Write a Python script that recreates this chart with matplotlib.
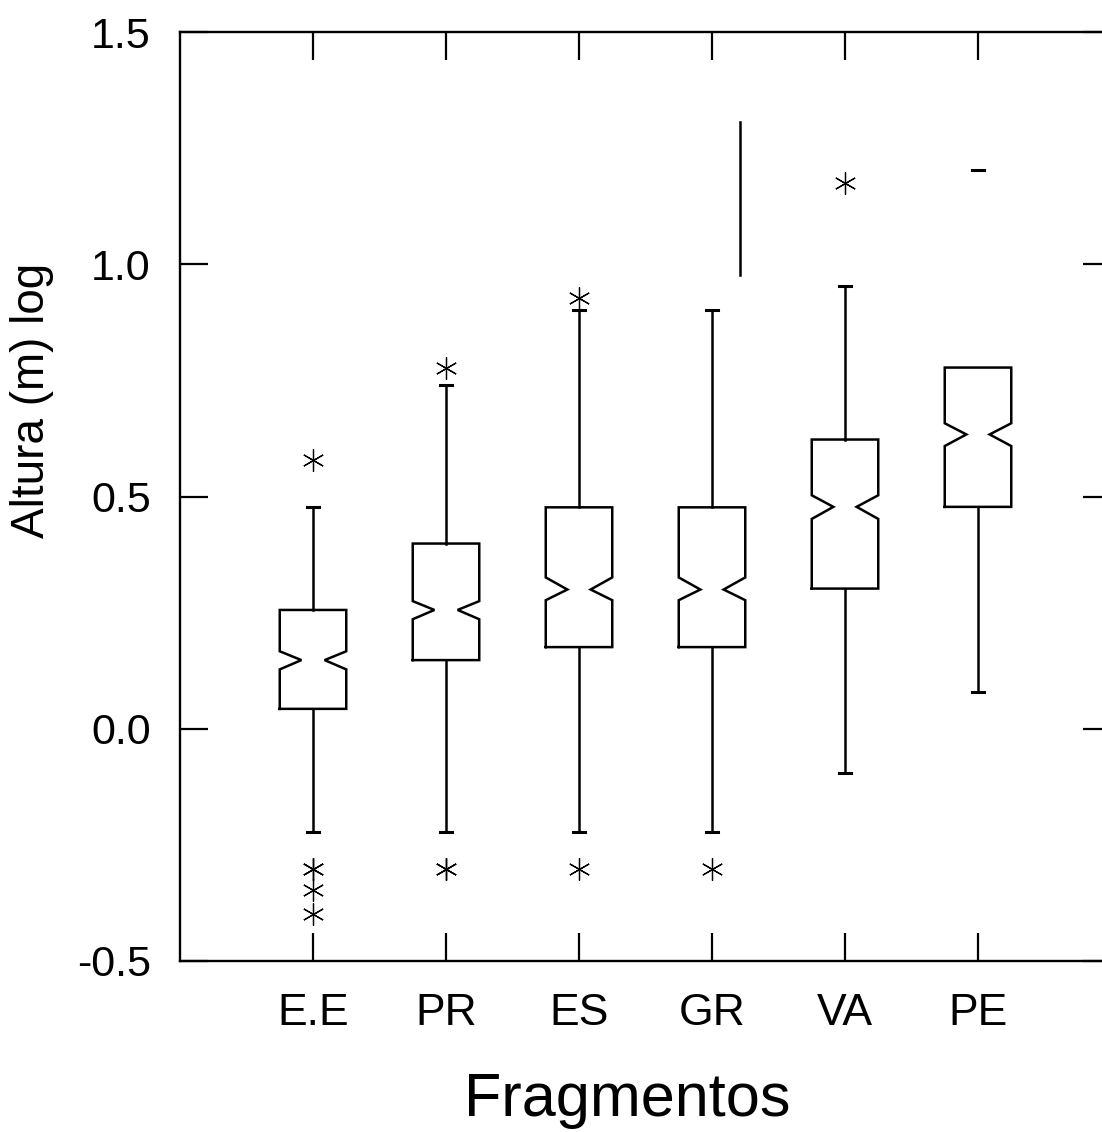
import numpy as np
import matplotlib
matplotlib.use('Agg')
import matplotlib.pyplot as plt

plt.rcParams['font.family'] = ['Liberation Sans', 'DejaVu Sans']
plt.rcParams['axes.unicode_minus'] = False

# box statistics (log10 of height in m)
labels = ['E.E', 'PR', 'ES', 'GR', 'VA', 'PE']
q1 = [0.043, 0.148, 0.176, 0.176, 0.302, 0.478]
med = [0.148, 0.256, 0.300, 0.300, 0.478, 0.634]
q3 = [0.256, 0.399, 0.477, 0.477, 0.623, 0.778]
ci_lo = [0.128, 0.236, 0.277, 0.277, 0.452, 0.609]
ci_hi = [0.167, 0.275, 0.326, 0.326, 0.503, 0.658]
whis_lo = [-0.222, -0.222, -0.222, -0.222, -0.096, 0.080]
whis_hi = [0.477, 0.740, 0.903, 0.903, 0.954, 1.203]
fliers = [[0.580, -0.301, -0.301, -0.348, -0.398],
          [0.778, -0.301, -0.301],
          [0.927, -0.301],
          [-0.301],
          [1.176],
          []]
# PE: upper whisker line is not drawn, only its cap
draw_upper_whisker = [True, True, True, True, True, False]
# stray vertical segment next to GR
stray_x = [4.21]
stray_lo = [0.977]
stray_hi = [1.307]

box_w = 0.5      # full box width
waist_w = 0.175  # width at the notch
cap_w = 0.095
lw = 1.8
col = 'black'

fig = plt.figure(figsize=(11.02, 11.32), dpi=100)
ax = fig.add_axes([180/1102, 171/1132, 931/1102, 928.7/1132])

pos = np.arange(1, len(labels) + 1)
for i, p in enumerate(pos):
    l, r = p - box_w/2, p + box_w/2
    nl, nr = p - waist_w/2, p + waist_w/2
    bx = [l, r, r, nr, r, r, l, l, nl, l, l]
    by = [q1[i], q1[i], ci_lo[i], med[i], ci_hi[i], q3[i], q3[i],
          ci_hi[i], med[i], ci_lo[i], q1[i]]
    ax.plot(bx, by, color=col, lw=lw, solid_joinstyle='miter')
    # lower whisker + cap
    ax.plot([p, p], [q1[i], whis_lo[i]], color=col, lw=lw)
    ax.plot([p - cap_w/2, p + cap_w/2], [whis_lo[i]]*2, color=col, lw=2.2)
    # upper whisker + cap
    if draw_upper_whisker[i]:
        ax.plot([p, p], [q3[i], whis_hi[i]], color=col, lw=lw)
    ax.plot([p - cap_w/2, p + cap_w/2], [whis_hi[i]]*2, color=col, lw=2.2)
    if fliers[i]:
        ax.plot([p]*len(fliers[i]), fliers[i], linestyle='none',
                marker=(6, 2, 0), markersize=16, markeredgewidth=0.9,
                color=col)

for x, lo, hi in zip(stray_x, stray_lo, stray_hi):
    ax.plot([x, x], [lo, hi], color=col, lw=lw)

ax.set_xlim(0, 7)
ax.set_ylim(-0.5, 1.5)
ax.set_xticks(pos)
ax.set_xticklabels(labels)
ax.set_yticks([-0.5, 0.0, 0.5, 1.0, 1.5])
ax.set_yticklabels(['-0.5', '0.0', '0.5', '1.0', '1.5'])
ax.tick_params(axis='both', direction='in', length=20, width=1.6,
               top=True, right=True, colors='black')
ax.tick_params(axis='x', labelsize=32, pad=23)
ax.tick_params(axis='y', labelsize=31, pad=21)
for s in ax.spines.values():
    s.set_linewidth(1.7)

ax.set_xlabel('Fragmentos', fontsize=44)
ax.xaxis.set_label_coords(0.48, -0.12)
ax.set_ylabel('Altura (m) log', fontsize=33)
ax.yaxis.set_label_coords(-0.135, 0.604)

fig.savefig('out.png', dpi=100)
